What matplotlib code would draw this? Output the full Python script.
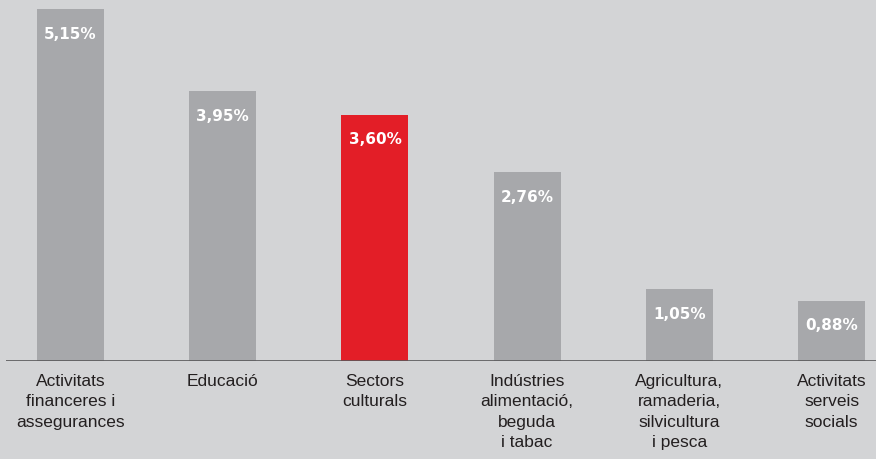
import matplotlib
matplotlib.use("Agg")
import matplotlib.pyplot as plt

categories = ["Activitats\nfinanceres i\nassegurances", "Educació", "Sectors\nculturals",
              "Indústries\nalimentació,\nbeguda\ni tabac", "Agricultura,\nramaderia,\nsilvicultura\ni pesca",
              "Activitats\nserveis\nsocials"]
values = [5.15, 3.95, 3.60, 2.76, 1.05, 0.88]
value_labels = ["5,15%", "3,95%", "3,60%", "2,76%", "1,05%", "0,88%"]
highlight = 2

bg = "#d3d4d6"
grey = "#a7a8ab"
red = "#e31e27"

W, H = 876, 459
fig = plt.figure(figsize=(W / 100, H / 100), dpi=100, facecolor=bg)
ax = fig.add_axes([6 / W, 98 / H, 870 / W, 361 / H], facecolor=bg)

x = list(range(len(values)))
colors = [red if i == highlight else grey for i in x]
ax.bar(x, values, width=0.44, color=colors, zorder=2)
ax.set_xlim(-0.424, 5.292)
ax.set_ylim(0, 5.282)

for xi, v, lab in zip(x, values, value_labels):
    ax.annotate(lab, (xi, v), xytext=(0, -25), textcoords="offset pixels",
                ha="center", va="center", color="white", fontsize=11,
                fontweight="bold", family="DejaVu Sans", zorder=3)

for xi, cat in zip(x, categories):
    ax.annotate(cat, (xi, 0), xytext=(0, -13), textcoords="offset pixels",
                ha="center", va="top", multialignment="center", color="#231f20",
                fontsize=12.5, family="Liberation Sans", linespacing=1.45,
                annotation_clip=False)

ax.axhline(0, color="#58585a", linewidth=1.2, zorder=3)
for s in ax.spines.values():
    s.set_visible(False)
ax.set_xticks([])
ax.set_yticks([])

fig.savefig("out.png", dpi=100, facecolor=bg)
